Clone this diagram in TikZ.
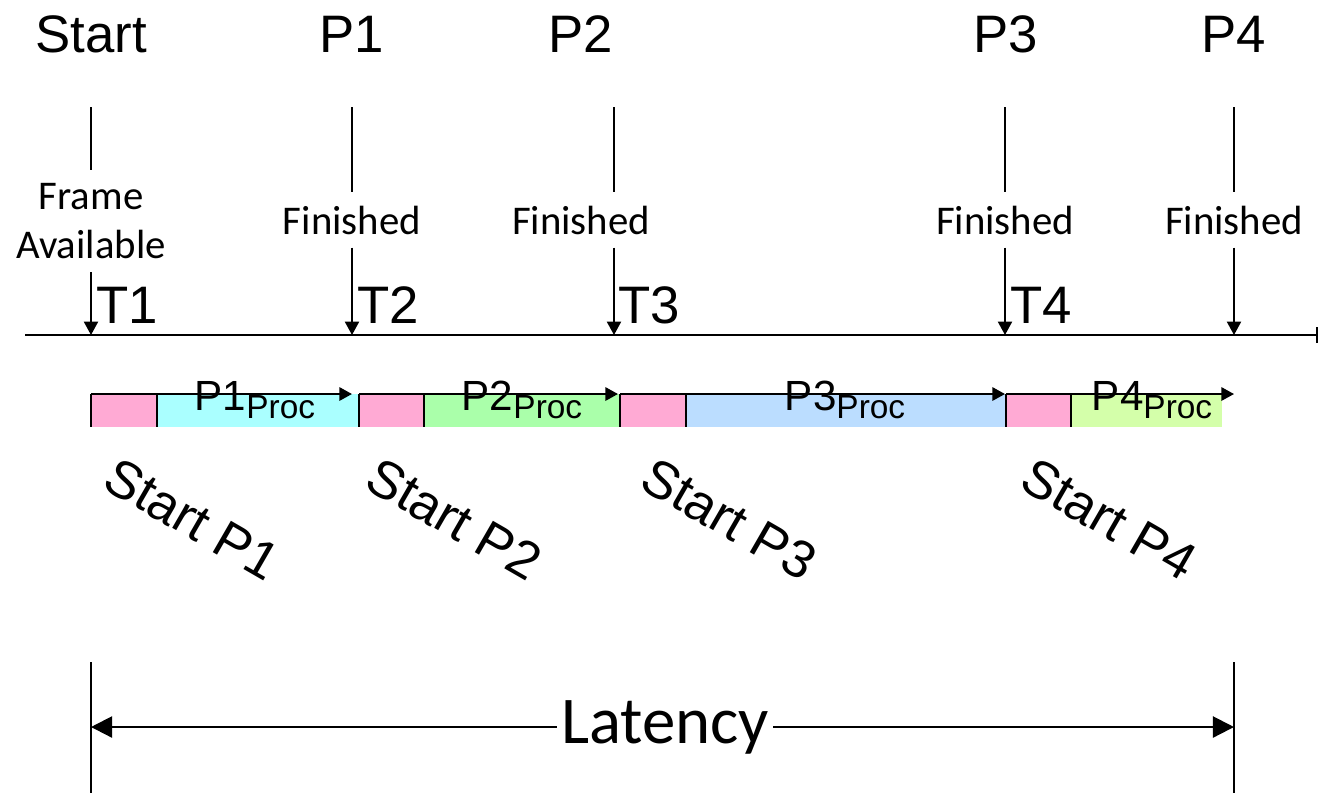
\documentclass[tikz,border=0pt]{standalone}
\usepackage{fontspec}
\setmainfont{Liberation Sans}
\newfontfamily\calibrifont{Carlito}
\usetikzlibrary{arrows.meta}
\definecolor{prepink}{HTML}{FFAAD4}
\definecolor{procone}{HTML}{AAFFFF}
\definecolor{proctwo}{HTML}{AAFFAA}
\definecolor{procthree}{HTML}{BBDDFF}
\definecolor{procfour}{HTML}{D4FFAA}
\tikzset{
  eventlabel/.style={font=\fontsize{15}{18}\selectfont,inner sep=0pt},
  notelabel/.style={font=\calibrifont\fontsize{11.6}{14}\selectfont,align=center,
    inner xsep=1pt,inner ysep=3.6pt},
  timeline/.style={line width=0.5pt,draw=black},
  markerarrow/.style={-{Triangle[width=4pt,length=3.8pt]},line width=0.5pt},
  procarrow/.style={-{Triangle[width=3.8pt,length=3.6pt]},line width=0.6pt},
  latencyarrow/.style={-{Triangle[width=6pt,length=6pt]},line width=0.6pt},
  proclabel/.style={font=\fontsize{12}{14}\selectfont,inner sep=0pt,anchor=base},
  startlabel/.style={font=\fontsize{15}{18}\selectfont,inner sep=0pt,
    anchor=base west,rotate=-30}
}
\newcommand{\procsub}[1]{#1\raisebox{-2.3pt}{\fontsize{9.5}{11}\selectfont Proc}}

\begin{document}
\begin{tikzpicture}[x=0.01cm,y=-0.01cm]
\useasboundingbox (0,0) rectangle (1318,793);

% event names above the markers
\node[eventlabel,anchor=base] (nstart) at (91,52) {Start};
\node[eventlabel,anchor=base] (np1) at (352,52) {P1};
\node[eventlabel,anchor=base] (np2) at (581,52) {P2};
\node[eventlabel,anchor=base] (np3) at (1006,52) {P3};
\node[eventlabel,anchor=base] (np4) at (1234,52) {P4};

\coordinate (top0) at (91,107);
\coordinate (top1) at (352,107);
\coordinate (top2) at (614,107);
\coordinate (top3) at (1005,107);
\coordinate (top4) at (1234,107);
\coordinate (ax0) at (91,335);
\coordinate (ax1) at (352,335);
\coordinate (ax2) at (614,335);
\coordinate (ax3) at (1005,335);
\coordinate (ax4) at (1234,335);

\node[notelabel] (frame) at (91,221) {Frame\\Available};
\node[notelabel] (fin1) at (352,220) {Finished};
\node[notelabel] (fin2) at (581,220) {Finished};
\node[notelabel] (fin3) at (1005,220) {Finished};
\node[notelabel] (fin4) at (1234,220) {Finished};

\draw[timeline] (top0) -- (frame);
\draw[markerarrow] (frame) -- (ax0);
\draw[timeline] (top1) -- (fin1);
\draw[markerarrow] (fin1) -- (ax1);
% the P2 note sits left of its marker line
\draw[timeline] (top2) -- (top2 |- fin2.north);
\draw[markerarrow] (top2 |- fin2.south) -- (ax2);
\draw[timeline] (top3) -- (fin3);
\draw[markerarrow] (fin3) -- (ax3);
\draw[timeline] (top4) -- (fin4);
\draw[markerarrow] (fin4) -- (ax4);

\node[eventlabel,anchor=base west] (tt1) at (96,323) {T1};
\node[eventlabel,anchor=base west] (tt2) at (357,323) {T2};
\node[eventlabel,anchor=base west] (tt3) at (618,323) {T3};
\node[eventlabel,anchor=base west] (tt4) at (1010,323) {T4};

% time axis
\coordinate (axisL) at (25,335);
\coordinate (axisR) at (1317,335);
\draw[timeline] (axisL) -- (axisR);
\draw[timeline] (1317,327) -- (1317,343);

% processing bars: pink lead-in, then the processing span
\fill[prepink] (91,394) rectangle (157,427);
\fill[procone] (157,394) rectangle (358,427);
\fill[prepink] (359,394) rectangle (424,427);
\fill[proctwo] (424,394) rectangle (620,427);
\fill[prepink] (620,394) rectangle (686,427);
\fill[procthree] (686,394) rectangle (1006,427);
\fill[prepink] (1006,394) rectangle (1071,427);
\fill[procfour] (1071,394) rectangle (1222,427);
\draw[timeline] (91,394) -- (91,427) (157,394) -- (157,427)
  (359,394) -- (359,427) (424,394) -- (424,427)
  (620,394) -- (620,427) (686,394) -- (686,427)
  (1006,394) -- (1006,427) (1071,394) -- (1071,427);

\coordinate (bs1) at (91,394);
\coordinate (bs2) at (359,394);
\coordinate (bs3) at (620,394);
\coordinate (bs4) at (1006,394);
\coordinate (be1) at (352,394);
\coordinate (be2) at (618,394);
\coordinate (be3) at (1005,394);
\coordinate (be4) at (1234,394);
\draw[procarrow] (bs1) -- (be1);
\draw[procarrow] (bs2) -- (be2);
\draw[procarrow] (bs3) -- (be3);
\draw[procarrow] (bs4) -- (be4);

\node[proclabel] (proc1) at (255,410) {\procsub{P1}};
\node[proclabel] (proc2) at (522,410) {\procsub{P2}};
\node[proclabel] (proc3) at (845,410) {\procsub{P3}};
\node[proclabel] (proc4) at (1152,410) {\procsub{P4}};

\node[startlabel] (sp1) at (100,487) {Start P1};
\node[startlabel] (sp2) at (362,487) {Start P2};
\node[startlabel] (sp3) at (637,487) {Start P3};
\node[startlabel] (sp4) at (1017,487) {Start P4};

% latency span
\coordinate (latL) at (91,727);
\coordinate (latR) at (1234,727);
\draw[line width=0.6pt] (91,662) -- (91,793);
\draw[line width=0.6pt] (1234,662) -- (1234,793);
\node[font=\calibrifont\fontsize{19}{22}\selectfont,inner xsep=1pt,inner ysep=0pt]
  (lat) at (665,727) {Latency};
\draw[latencyarrow] (lat) -- (latL);
\draw[latencyarrow] (lat) -- (latR);
\end{tikzpicture}
\end{document}
